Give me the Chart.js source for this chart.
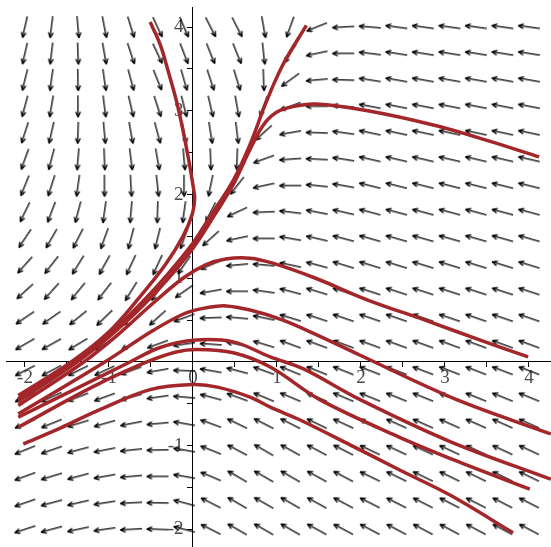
<!DOCTYPE html>
<html>
<head>
<meta charset="utf-8">
<script src="https://cdn.jsdelivr.net/npm/chart.js@4.4.0/dist/chart.umd.min.js"></script>
<style>
  html, body { margin: 0; padding: 0; background: #fff; }
  #wrap { width: 551px; height: 547px; }
</style>
</head>
<body>
<div id="wrap"><canvas id="fieldChart" width="551" height="547"></canvas></div>
<script>
// arrow grid (20 x 20), positions in plot units
var arrowXs = [-2, -1.684, -1.368, -1.053, -0.737, -0.421, -0.105, 0.211, 0.526, 0.842,
  1.158, 1.474, 1.789, 2.105, 2.421, 2.737, 3.053, 3.368, 3.684, 4];
var arrowYs = [4, 3.684, 3.368, 3.053, 2.737, 2.421, 2.105, 1.789, 1.474, 1.158,
  0.842, 0.526, 0.211, -0.105, -0.421, -0.737, -1.053, -1.368, -1.684, -2];

// arrow directions in degrees (counter-clockwise from +x), one row per arrowYs entry
var arrowAngles = [
  [257, 263, 275, 281, 287, 295, 293, 297, 297, 280, 250, 202, 183, 175, 172, 172, 172, 172, 172, 172],
  [257, 263, 272, 280, 288, 295, 291, 292, 292, 276, 238, 192, 180, 173, 171, 171, 171, 171, 171, 171],
  [256, 262, 271, 278, 285, 292, 286, 288, 287, 272, 216, 185, 178, 171, 170, 170, 170, 170, 170, 170],
  [255, 260, 270, 277, 283, 288, 284, 283, 280, 250, 200, 180, 175, 169, 169, 169, 169, 169, 169, 169],
  [252, 257, 268, 275, 280, 285, 281, 279, 277, 222, 190, 178, 172, 168, 168, 168, 168, 168, 168, 168],
  [250, 255, 265, 272, 277, 280, 275, 272, 268, 200, 184, 177, 171, 167, 167, 167, 167, 167, 167, 167],
  [248, 252, 262, 270, 273, 276, 270, 258, 232, 192, 180, 174, 170, 166, 166, 166, 166, 166, 166, 166],
  [244, 249, 255, 262, 265, 268, 262, 243, 205, 182, 173, 169, 167, 165, 165, 165, 165, 165, 165, 165],
  [236, 240, 243, 250, 255, 256, 250, 222, 192, 180, 170, 167, 165, 164, 164, 164, 164, 164, 164, 164],
  [228, 232, 238, 241, 245, 245, 235, 203, 185, 175, 168, 165, 163, 163, 163, 163, 163, 163, 163, 163],
  [222, 228, 231, 232, 238, 236, 215, 190, 180, 172, 165, 163, 162, 162, 162, 162, 162, 162, 162, 162],
  [214, 215, 219, 224, 223, 222, 200, 182, 175, 168, 163, 162, 161, 161, 161, 161, 161, 161, 161, 161],
  [210, 209, 211, 212, 210, 200, 188, 176, 168, 163, 160, 160, 160, 160, 160, 160, 160, 160, 160, 160],
  [207, 208, 206, 205, 200, 190, 178, 170, 165, 160, 158, 158, 158, 159, 159, 159, 159, 159, 159, 159],
  [205, 205, 201, 200, 195, 188, 175, 165, 160, 157, 157, 157, 157, 158, 158, 158, 158, 158, 158, 158],
  [204, 202, 197, 196, 191, 185, 170, 160, 154, 153, 153, 154, 155, 156, 156, 156, 156, 156, 156, 156],
  [202, 199, 195, 191, 186, 181, 170, 158, 152, 150, 151, 152, 153, 155, 155, 155, 155, 155, 155, 155],
  [200, 197, 195, 190, 185, 180, 170, 157, 150, 150, 150, 151, 152, 154, 154, 154, 154, 154, 154, 154],
  [199, 195, 193, 189, 183, 179, 165, 153, 150, 150, 150, 151, 152, 153, 153, 153, 153, 153, 153, 153],
  [198, 195, 192, 188, 183, 178, 165, 153, 150, 150, 150, 151, 152, 152, 152, 152, 152, 152, 152, 152]
];

// solution curves, [x, y]
var curveA = [[-2.08, -0.44], [-1.42, 0], [-1.0, 0.33], [-0.6, 0.72], [-0.3, 1.05], [0, 1.42],
  [0.18, 1.7], [0.48, 2.17], [0.68, 2.6], [0.87, 3.1], [1.07, 3.55], [1.35, 4.02]];
var curveB = [[-2.08, -0.47], [-1.38, 0], [-1.0, 0.3], [-0.6, 0.67], [-0.3, 0.99], [0, 1.36],
  [0.26, 1.76], [0.48, 2.12], [0.66, 2.5], [0.83, 2.82], [0.99, 2.98], [1.19, 3.05], [1.46, 3.08],
  [2.08, 3.0], [2.86, 2.83], [3.49, 2.65], [4.12, 2.45]];
var curveC = [[-2.08, -0.4], [-1.45, 0], [-1.0, 0.36], [-0.63, 0.78], [-0.33, 1.16], [-0.12, 1.5],
  [-0.01, 1.76], [0.02, 1.95], [0, 2.11], [-0.05, 2.41], [-0.12, 2.77], [-0.2, 3.13],
  [-0.3, 3.49], [-0.39, 3.79], [-0.51, 4.06]];
var curveD = [[-2.08, -0.52], [-1.3, 0], [-0.9, 0.32], [-0.5, 0.68], [-0.12, 1.0], [0.15, 1.16],
  [0.39, 1.23], [0.68, 1.24], [0.95, 1.18], [1.46, 1.0], [2.08, 0.74], [2.82, 0.48],
  [3.42, 0.26], [3.99, 0.06]];
var curveE = [[-2.08, -0.62], [-1.05, 0], [-0.5, 0.36], [-0.12, 0.57], [0.12, 0.64], [0.39, 0.67],
  [0.68, 0.62], [1.07, 0.5], [1.46, 0.33], [1.99, 0.08], [3.14, -0.45], [4.26, -0.86]];
var curveF = [[-2.08, -0.66], [-0.75, 0], [-0.4, 0.17], [0, 0.26], [0.48, 0.24], [0.92, 0.06],
  [1.31, -0.08], [1.99, -0.45], [3.06, -0.95], [4.26, -1.4]];
var curveG = [[-2.08, -0.78], [-1.2, -0.3], [-0.55, 0], [-0.2, 0.12], [0.05, 0.15], [0.48, 0.11],
  [0.92, -0.06], [1.51, -0.45], [2.46, -0.9], [3.18, -1.2], [4.01, -1.52]];
var curveH = [[-2.02, -0.98], [-1.58, -0.79], [-1.11, -0.57], [-0.51, -0.33], [0, -0.27],
  [0.29, -0.3], [0.68, -0.42], [0.92, -0.54], [1.27, -0.69], [1.87, -0.99], [2.46, -1.29],
  [3.06, -1.59], [3.81, -2.04]];

var xTicks = [-2, -1.5, -1, -0.5, 0, 0.5, 1, 1.5, 2, 2.5, 3, 3.5, 4];
var yTicks = [-2, -1.5, -1, -0.5, 0, 0.5, 1, 1.5, 2, 2.5, 3, 3.5, 4];

// small arrow glyph pointing right, rotated per point by Chart.js
var arrowImg = document.createElement("canvas");
arrowImg.width = 26;
arrowImg.height = 26;
var g = arrowImg.getContext("2d");
g.strokeStyle = "#000";
g.lineWidth = 1.25;
g.beginPath();
g.moveTo(2, 13);
g.lineTo(24, 13);
g.moveTo(24, 13);
g.lineTo(18.5, 10.7);
g.moveTo(24, 13);
g.lineTo(18.5, 15.3);
g.stroke();

var fieldPoints = [];
var fieldRotation = [];
arrowYs.forEach(function (y, j) {
  arrowXs.forEach(function (x, i) {
    fieldPoints.push({ x: x, y: y });
    fieldRotation.push(-arrowAngles[j][i]);
  });
});

function curveSet(pts) {
  return {
    type: "line",
    data: pts.map(function (p) { return { x: p[0], y: p[1] }; }),
    borderColor: "#a3262a",
    borderWidth: 3.5,
    pointRadius: 0,
    tension: 0.35,
    fill: false,
    order: 1,
  };
}

function noPad(scale) {
  scale.paddingTop = 0;
  scale.paddingBottom = 0;
  scale.paddingLeft = 0;
  scale.paddingRight = 0;
}

var tickFont = { family: "Liberation Serif", size: 19 };

var ctx = document.getElementById("fieldChart").getContext("2d");
var fieldChart = new Chart(ctx, {
  type: "scatter",
  data: {
    datasets: [
      curveSet(curveA), curveSet(curveB), curveSet(curveC), curveSet(curveD),
      curveSet(curveE), curveSet(curveF), curveSet(curveG), curveSet(curveH),
      {
        type: "scatter",
        data: fieldPoints,
        pointStyle: arrowImg,
        rotation: fieldRotation,
        pointRadius: 11,
        order: 2,
      },
    ],
  },
  options: {
    responsive: false,
    animation: false,
    events: [],
    layout: { autoPadding: false, padding: { left: 6, top: 7, right: 0, bottom: 0 } },
    plugins: {
      legend: { display: false },
      tooltip: { enabled: false },
    },
    scales: {
      x: {
        type: "linear",
        min: -2.226,
        max: 4.262,
        position: { y: 0 },
        afterBuildTicks: function (s) {
          s.ticks = xTicks.map(function (v) { return { value: v }; });
        },
        afterFit: noPad,
        grid: { drawOnChartArea: false, drawTicks: true, tickLength: 5, color: "#000" },
        border: { display: true, color: "#000", width: 1 },
        ticks: {
          autoSkip: false,
          maxRotation: 0,
          padding: 0,
          color: "#4a4a4a",
          font: tickFont,
          callback: function (v) { return Number.isInteger(v) ? String(v) : ""; },
        },
      },
      y: {
        type: "linear",
        min: -2.21,
        max: 4.24,
        position: { x: 0 },
        afterBuildTicks: function (s) {
          s.ticks = yTicks.map(function (v) { return { value: v }; });
        },
        afterFit: noPad,
        grid: { drawOnChartArea: false, drawTicks: true, tickLength: 5, color: "#000" },
        border: { display: true, color: "#000", width: 1 },
        ticks: {
          autoSkip: false,
          padding: 3,
          color: "#4a4a4a",
          font: tickFont,
          // labels sit against the axis, so pad them with spaces
          callback: function (v) { return Number.isInteger(v) && v !== 0 ? String(v) + "  " : ""; },
        },
      },
    },
  },
});
</script>
</body>
</html>
